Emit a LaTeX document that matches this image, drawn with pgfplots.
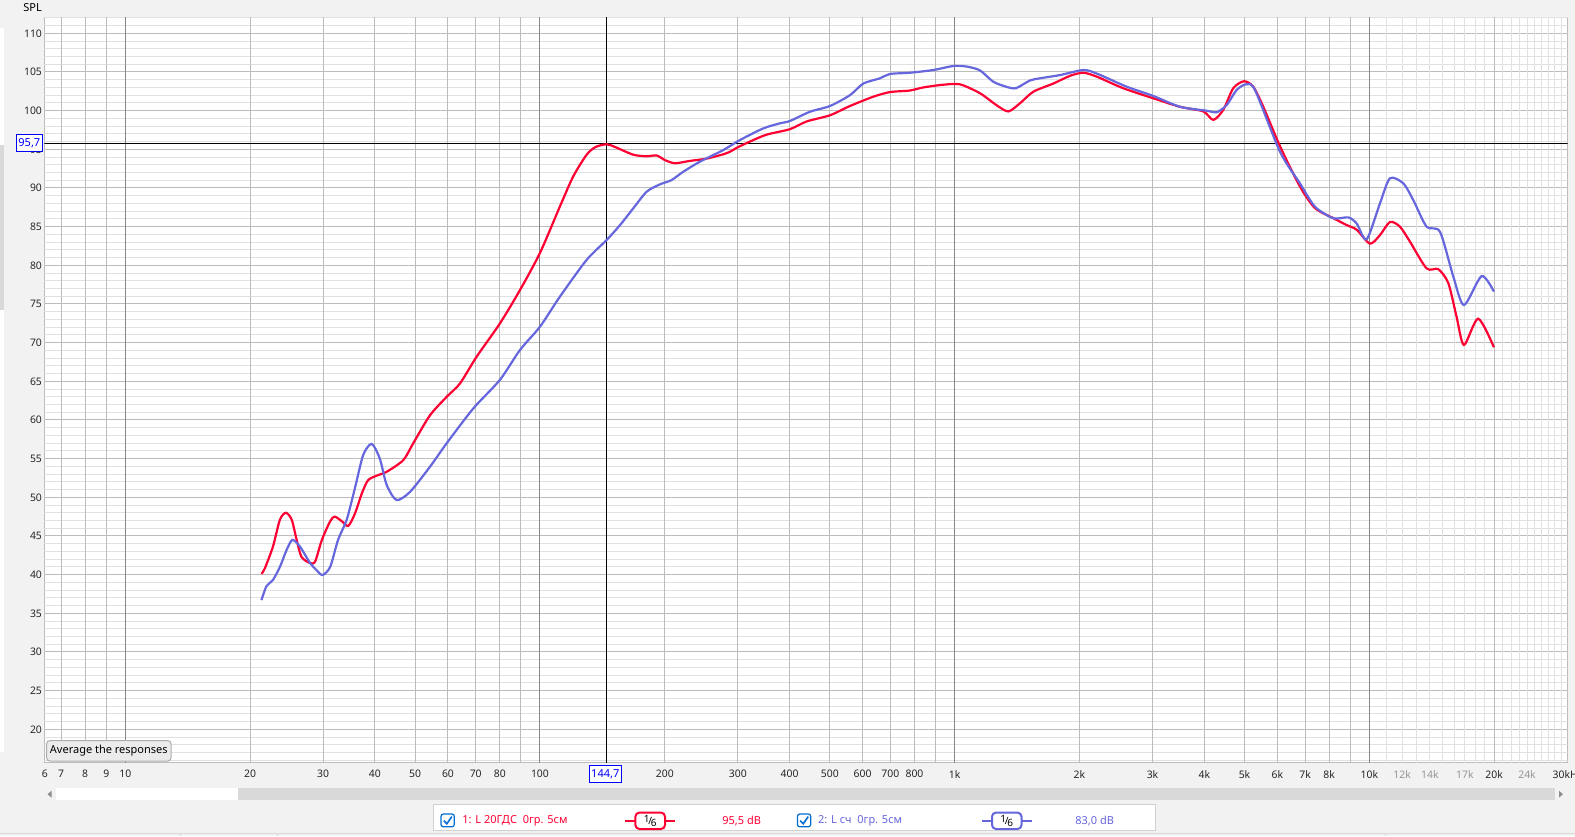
\documentclass[border=0pt]{standalone}
\usepackage{pgfplots}
\pgfplotsset{compat=1.18}
\usepackage{fontspec}
\setmainfont{Noto Sans}
\definecolor{redc}{RGB}{255,0,51}
\definecolor{bluec}{RGB}{102,102,221}
\definecolor{gmin}{RGB}{225,225,225}
\definecolor{gmaj}{RGB}{188,188,188}
\definecolor{gdec}{RGB}{135,135,135}
\definecolor{bgc}{RGB}{242,242,242}
\definecolor{curblue}{RGB}{0,0,255}
\definecolor{chk}{RGB}{0,110,210}
\definecolor{lbl}{RGB}{150,150,150}
\definecolor{scr}{RGB}{217,217,217}

\begin{document}
\begin{tikzpicture}
\useasboundingbox (0,0) rectangle (787.5pt,418pt);
\clip (0,0) rectangle (787.5pt,418pt);
\fill[bgc] (0,0) rectangle (787.5pt,418pt);

\begin{axis}[
  at={(22.15pt,36.65pt)}, anchor=south west,
  scale only axis, width=761.7pt, height=372.7pt,
  xmode=log, log basis x=10,
  xmin=6.38, xmax=30080, ymin=15.68, ymax=112.07,
  axis background/.style={fill=white},
  axis line style={draw=gmaj, line width=0.5pt},
  major tick length=0pt, minor tick length=0pt,
  tick style={draw=none},
  tick label style={font=\fontsize{5.2pt}{6pt}\selectfont, text=black!85},
  /pgf/number format/assume math mode=true,
  xtick={6.40,7,8,9,10,20,30,40,50,60,70,80,100,200,300,400,500,600,700,800,1000,2000,3000,4000,5000,6000,7000,8000,10000,12000,14000,17000,20000,24000,30080},
  xticklabels={6,7,8,9,10,20,30,40,50,60,70,80,100,200,300,400,500,600,700,800,1k,2k,3k,4k,5k,6k,7k,8k,10k,{\textcolor{lbl}{12k}},{\textcolor{lbl}{14k}},{\textcolor{lbl}{17k}},20k,{\textcolor{lbl}{24k}},30kHz},
  xticklabel style={anchor=north, inner sep=0pt, yshift=-3.6pt},
  ytick={20,25,...,110},
  yticklabel style={anchor=east, inner sep=0pt, xshift=-1pt},
]
% horizontal grid
\pgfplotsinvokeforeach{16,17,...,112}{\draw[gmin, line width=0.5pt] (axis cs:6.38,#1) -- (axis cs:30080,#1);}
\pgfplotsinvokeforeach{20,25,...,110}{\draw[gmaj, line width=0.5pt] (axis cs:6.38,#1) -- (axis cs:30080,#1);}
% vertical grid
\pgfplotsinvokeforeach{11000,12000,13000,14000,15000,16000,17000,18000,19000,21000,22000,23000,24000,25000,26000,27000,28000,29000}{\draw[gmin, line width=0.5pt] (axis cs:#1,15.68) -- (axis cs:#1,112.07);}
\pgfplotsinvokeforeach{7,8,9,20,30,40,50,60,70,80,90,200,300,400,500,600,700,800,900,2000,3000,4000,5000,6000,7000,8000,9000,20000}{\draw[gmaj, line width=0.5pt] (axis cs:#1,15.68) -- (axis cs:#1,112.07);}
\pgfplotsinvokeforeach{10,100,1000,10000}{\draw[gdec, line width=0.5pt] (axis cs:#1,15.68) -- (axis cs:#1,112.07);}
% cursors
\draw[black, line width=0.6pt] (axis cs:144.7,15.68) -- (axis cs:144.7,112.07);
\draw[black, line width=0.6pt] (axis cs:6.38,95.7) -- (axis cs:30080,95.7);

% 1: L 20GDS
\addplot[redc, line width=1.1pt, smooth, tension=0.45] coordinates {
(21.3,40.1)(21.7,40.8)(22.7,43.6)(23.6,47.1)(24.4,48.0)(25.2,47.1)(25.9,44.5)(26.6,42.3)(27.9,41.5)(28.7,41.7)(29.8,44.5)(31.2,46.9)(32.0,47.5)(33.3,46.9)(34.5,46.3)(35.8,47.9)(37.2,50.5)(38.5,52.2)(40.4,52.8)(42.7,53.3)(46.8,54.8)(49.5,57.0)(54.3,60.6)(59.6,63.0)(64.1,64.7)(70.4,68.2)(80.1,72.5)(89.5,76.8)(100,81.6)(111.7,87.6)(120.3,91.5)(129.6,94.3)(136.2,95.3)(144.8,95.65)(151.7,95.3)(167.9,94.3)(180.9,94.1)(191.2,94.2)(200.2,93.6)(211.6,93.2)(230,93.5)(252.4,93.8)(282,94.5)(300.8,95.3)(320.9,96.0)(352.2,96.9)(400.6,97.6)(439.7,98.6)(500.4,99.4)(559.2,100.6)(636.6,101.8)(698.3,102.4)(780,102.6)(840.3,103.0)(938.6,103.35)(1030,103.4)(1151,102.25)(1262,100.7)(1347,99.9)(1437,100.95)(1548,102.45)(1729,103.5)(1897,104.5)(2042,104.9)(2200,104.4)(2549,102.9)(3012,101.6)(3494,100.5)(3977,99.9)(4204,98.8)(4443,100.1)(4697,102.9)(4985,103.8)(5248,103.1)(5549,100.5)(6088,95.4)(6800,90.2)(7395,87.4)(8185,86.1)(8815,85.2)(9320,84.6)(10030,82.8)(10605,83.9)(11210,85.6)(11850,85.0)(12530,83.05)(13740,79.6)(14660,79.5)(15500,77.7)(16230,73.35)(16910,69.7)(18300,73.1)(19970,69.4)
};
% 2: L sch
\addplot[bluec, line width=1.1pt, smooth, tension=0.45] coordinates {
(21.3,36.7)(21.9,38.5)(22.7,39.3)(23.6,41.0)(24.5,43.2)(25.3,44.5)(26.4,43.6)(27.9,41.5)(28.9,40.6)(29.9,39.95)(31.2,41.0)(32.6,44.5)(34.2,47.1)(35.8,51.2)(37.5,55.5)(39.3,56.9)(41.1,55.0)(42.7,51.6)(45.1,49.65)(48.6,50.7)(54.3,53.95)(59.6,57.0)(69.1,61.5)(80.1,65.2)(89.5,69.05)(100,72.06)(111.7,75.94)(129.6,80.7)(144.8,83.27)(156,85.2)(167.9,87.37)(180.9,89.52)(194.8,90.47)(207.8,91.03)(221.6,92.1)(243.1,93.4)(276.7,94.9)(303.6,96.2)(345.5,97.7)(379.2,98.36)(400.6,98.66)(448,99.86)(500.4,100.6)(559.2,102.0)(602,103.5)(660.7,104.18)(698,104.74)(780,104.9)(888,105.25)(992,105.77)(1069,105.7)(1151,105.2)(1239,103.74)(1330,103.1)(1405,102.9)(1519,103.9)(1606,104.18)(1795,104.6)(2042,105.25)(2200,104.8)(2598,103.1)(3012,101.9)(3494,100.5)(4053,99.99)(4283,99.78)(4529,100.73)(4786,102.67)(5041,103.4)(5299,102.67)(6088,94.69)(6800,90.6)(7395,87.58)(8185,86.08)(8893,86.2)(9320,85.4)(9851,83.36)(10605,88.0)(11210,91.25)(12070,90.6)(12760,88.44)(13740,84.99)(14800,84.34)(15940,78.53)(16910,74.86)(18650,78.6)(19970,76.6)
};
\end{axis}

\begin{scope}[x=0.5pt, y=-0.5pt, shift={(0pt,418pt)}, font=\fontsize{5.5pt}{6.6pt}\selectfont]
% left vertical scrollbar strip
\fill[white] (0,28) rectangle (4.3,752);
\fill[scr] (0,145) rectangle (4.3,310);
% SPL
\node[anchor=west, inner sep=0pt] at (23,7.5) {SPL};
% cursor value boxes
\draw[curblue, fill=white, line width=0.5pt] (16,135) rectangle (42.7,151.7);
\node[curblue, inner sep=0pt] at (29.35,143.6) {95,7};
\draw[curblue, fill=white, line width=0.5pt] (589.5,765.7) rectangle (621.1,782.3);
\node[curblue, inner sep=0pt] at (605.3,774.2) {144,7};
% button
\draw[draw=black!32, fill=black!8, rounded corners=1.5pt, line width=0.5pt] (46.7,740.7) rectangle (171,761);
\node[inner sep=0pt] at (108.8,751) {Average the responses};
% horizontal scrollbar
\fill[white] (56,788.3) rectangle (238,800);
\fill[scr] (238,788.3) rectangle (1555,800);
\fill[black!45] (47.5,794.2) -- (51.5,790.8) -- (51.5,797.6) -- cycle;
\fill[black!45] (1563,794.2) -- (1559,790.8) -- (1559,797.6) -- cycle;
% status line
\draw[black!15, line width=0.5pt] (0,833.5) -- (1575,833.5);
\draw[black!15, line width=0.5pt] (180,833.5) -- (180,836);
\draw[black!15, line width=0.5pt] (277,833.5) -- (277,836);
\draw[black!15, line width=0.5pt] (1385,833.5) -- (1385,836);
% legend box
\draw[draw=black!18, fill=white, line width=0.5pt] (433.6,804.3) rectangle (1155.5,830);
% item 1
\draw[chk, fill=white, rounded corners=1.2pt, line width=0.6pt] (441,814) rectangle (454.3,826.8);
\draw[chk, line width=0.8pt] (443.8,820.6) -- (446.8,823.8) -- (451.8,816.6);
\node[redc, anchor=west, inner sep=0pt] at (462,820.7) {1: L 20ГДС\ \ 0гр. 5см};
\draw[redc, line width=1pt] (625,820.7) -- (675,820.7);
\draw[redc, fill=white, rounded corners=2pt, line width=1pt] (635.4,812.6) rectangle (665,829);
\node[inner sep=0pt, font=\fontsize{5pt}{6pt}\selectfont] at (650.2,821) {\raisebox{1pt}{1}\kern-0.6pt/\kern-0.6pt\raisebox{-1.2pt}{6}};
\node[redc, anchor=west, inner sep=0pt] at (722,820.7) {95,5 dB};
% item 2
\draw[chk, fill=white, rounded corners=1.2pt, line width=0.6pt] (797.4,814) rectangle (810.7,826.8);
\draw[chk, line width=0.8pt] (800.2,820.6) -- (803.2,823.8) -- (808.2,816.6);
\node[bluec, anchor=west, inner sep=0pt] at (817.7,820.7) {2: L сч\ \ 0гр. 5см};
\draw[bluec, line width=1pt] (981.8,820.7) -- (1031.7,820.7);
\draw[bluec, fill=white, rounded corners=2pt, line width=1pt] (992,812.6) rectangle (1021.5,829);
\node[inner sep=0pt, font=\fontsize{5pt}{6pt}\selectfont] at (1006.8,821) {\raisebox{1pt}{1}\kern-0.6pt/\kern-0.6pt\raisebox{-1.2pt}{6}};
\node[bluec, anchor=west, inner sep=0pt] at (1075,820.7) {83,0 dB};
\end{scope}
\end{tikzpicture}
\end{document}
